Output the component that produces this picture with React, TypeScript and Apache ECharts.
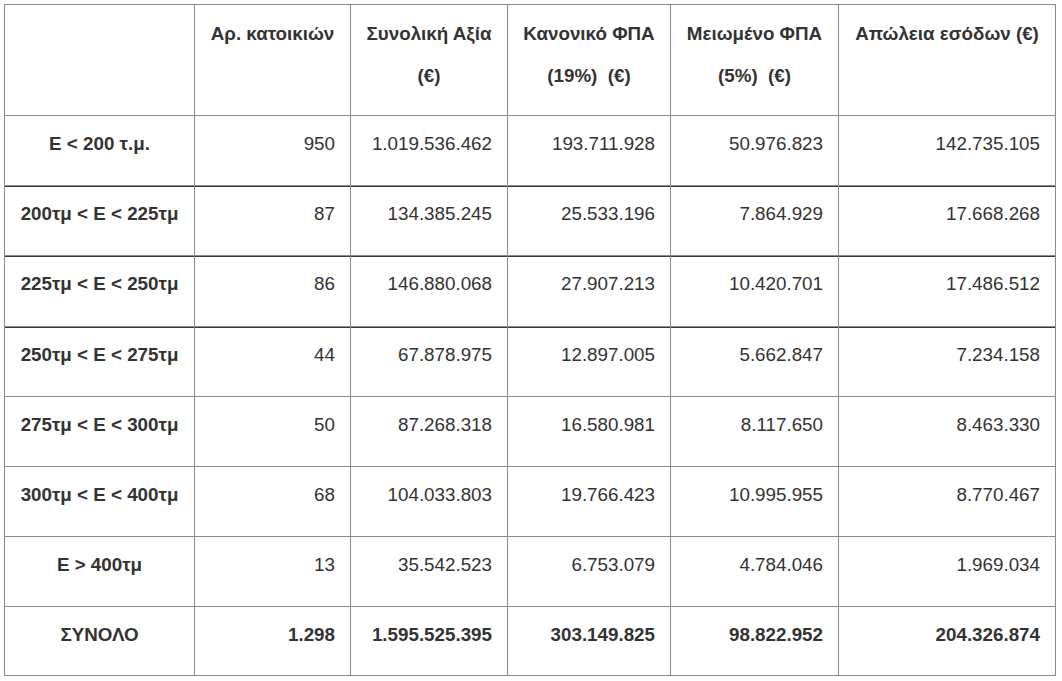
import React, { useEffect, useRef } from "react";
import * as echarts from "echarts";

const headers: string[][] = [
  [],
  ["Αρ. κατοικιών"],
  ["Συνολική Αξία", "(€)"],
  ["Κανονικό ΦΠΑ", "(19%)  (€)"],
  ["Μειωμένο ΦΠΑ", "(5%)  (€)"],
  ["Απώλεια εσόδων (€)"],
];
const categories = [
  "Ε < 200 τ.μ.",
  "200τμ < Ε < 225τμ",
  "225τμ < Ε < 250τμ",
  "250τμ < Ε < 275τμ",
  "275τμ < Ε < 300τμ",
  "300τμ < Ε < 400τμ",
  "Ε > 400τμ",
];
const totalLabel = "ΣΥΝΟΛΟ";
const households = [950, 87, 86, 44, 50, 68, 13];
const totalValue = [1019536462, 134385245, 146880068, 67878975, 87268318, 104033803, 35542523];
const normalVat = [193711928, 25533196, 27907213, 12897005, 16580981, 19766423, 6753079];
const reducedVat = [50976823, 7864929, 10420701, 5662847, 8117650, 10995955, 4784046];
const revenueLoss = [142735105, 17668268, 17486512, 7234158, 8463330, 8770467, 1969034];
const totals = [1298, 1595525395, 303149825, 98822952, 204326874];

const fmt = (n: number) => String(n).replace(/\B(?=(\d{3})+(?!\d))/g, ".");

export default function App() {
  const ref = useRef<HTMLDivElement>(null);
  useEffect(() => {
    if (!ref.current) return;
    const chart = echarts.init(ref.current, undefined, { renderer: "svg" });
    const colX = [4.5, 194.5, 350.5, 507.5, 670.5, 838.5, 1055.5];
    const rowY = [4.5, 115.5, 185.5, 255.5, 326.5, 396.5, 466.5, 536.5, 606.5, 675.5];
    const darkRows = [2, 3, 4];
    const font = "'Liberation Sans', Arial, Helvetica, sans-serif";
    const fs = 18.8;
    const color = "#333";
    const grey = "#8a8a8a";
    const els: any[] = [];
    // horizontal lines
    rowY.forEach((y, i) => {
      els.push({
        type: "line",
        shape: { x1: colX[0] - 0.5, y1: y, x2: colX[colX.length - 1] + 0.5, y2: y },
        style: { stroke: grey, lineWidth: 1 },
        silent: true,
      });
      if (darkRows.includes(i)) {
        els.push({
          type: "line",
          shape: { x1: colX[0] - 0.5, y1: y + 1, x2: colX[colX.length - 1] + 0.5, y2: y + 1 },
          style: { stroke: "#3a3a3a", lineWidth: 1 },
          silent: true,
        });
      }
    });
    colX.forEach((x) => {
      els.push({
        type: "line",
        shape: { x1: x, y1: rowY[0], x2: x, y2: rowY[rowY.length - 1] },
        style: { stroke: grey, lineWidth: 1 },
        silent: true,
      });
    });
    // headers
    headers.forEach((lines, c) => {
      lines.forEach((t, k) => {
        els.push({
          type: "text",
          x: (colX[c] + colX[c + 1]) / 2,
          y: 33 + k * 42,
          style: {
            text: t,
            fill: color,
            font: `bold ${fs}px ${font}`,
            align: "center",
            verticalAlign: "middle",
          },
          silent: true,
        });
      });
    });
    const cols = [households, totalValue, normalVat, reducedVat, revenueLoss];
    const rows = categories.map((cat, r) => ({
      label: cat,
      vals: cols.map((arr) => arr[r]),
      bold: false,
    }));
    rows.push({ label: totalLabel, vals: totals, bold: true });
    rows.forEach((row, r) => {
      const cy = rowY[r + 1] + 28;
      els.push({
        type: "text",
        x: (colX[0] + colX[1]) / 2,
        y: cy,
        style: {
          text: row.label,
          fill: color,
          font: `bold ${fs}px ${font}`,
          align: "center",
          verticalAlign: "middle",
        },
        silent: true,
      });
      row.vals.forEach((v, c) => {
        els.push({
          type: "text",
          x: colX[c + 2] - 15.5,
          y: cy,
          style: {
            text: fmt(v),
            fill: color,
            font: `${row.bold ? "bold " : ""}${fs}px ${font}`,
            align: "right",
            verticalAlign: "middle",
          },
          silent: true,
        });
      });
    });
    chart.setOption({
      animation: false,
      backgroundColor: "#ffffff",
      graphic: { elements: els },
    });
    return () => chart.dispose();
  }, []);
  return (
    <div
      ref={ref}
      style={{ position: "fixed", left: 0, top: 0, width: 1062, height: 681, background: "#fff" }}
    />
  );
}
